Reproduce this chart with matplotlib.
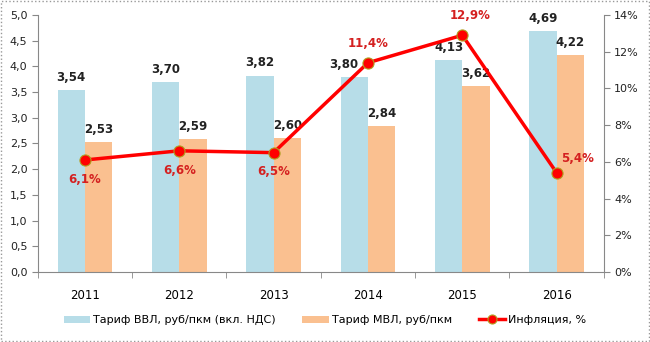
import numpy as np
import matplotlib.pyplot as plt
from matplotlib.patches import Rectangle

years = ['2011', '2012', '2013', '2014', '2015', '2016']
vvl = [3.54, 3.70, 3.82, 3.80, 4.13, 4.69]
mvl = [2.53, 2.59, 2.60, 2.84, 3.62, 4.22]
infl = [6.1, 6.6, 6.5, 11.4, 12.9, 5.4]

blue = '#b7dde8'
orange = '#fac090'
red = '#ff0000'
dark_red = '#d42020'

plt.rcParams['font.family'] = ['DejaVu Sans']
plt.rcParams['font.size'] = 8

fig = plt.figure(figsize=(6.5, 3.42), dpi=100)
ax = fig.add_axes([0.058, 0.205, 0.871, 0.751])
ax2 = ax.twinx()

x = np.arange(len(years))
w = 0.29
b1 = ax.bar(x - w / 2, vvl, w, color=blue, label='Тариф ВВЛ, руб/пкм (вкл. НДС)')
b2 = ax.bar(x + w / 2, mvl, w, color=orange, label='Тариф МВЛ, руб/пкм')

# small shifts so labels do not sit under the line markers
vvl_dx = [0, 0, 0, -0.11, 0, 0]
for xi, v, dx in zip(x, vvl, vvl_dx):
    ax.text(xi - w / 2 + dx, v + 0.12, f'{v:.2f}'.replace('.', ','), ha='center', va='bottom',
            fontweight='bold', fontsize=8.5, color='#222222')
for xi, v in zip(x, mvl):
    ax.text(xi + w / 2, v + 0.12, f'{v:.2f}'.replace('.', ','), ha='center', va='bottom',
            fontweight='bold', fontsize=8.5, color='#222222')

ln, = ax2.plot(x, infl, color=red, lw=2.5, marker='o', ms=8, mfc=red, mec='#b0a020',
               mew=0.8, label='Инфляция, %')

offsets = [(0, -1.05), (0, -1.05), (0, -1.05), (0, 1.05), (0.08, 1.1), (0.22, 0.8)]
for xi, v, (dx, dy) in zip(x, infl, offsets):
    ax2.text(xi + dx, v + dy, f'{v:.1f}%'.replace('.', ','), ha='center', va='center',
             fontweight='bold', fontsize=8.5, color=dark_red)

ax.set_xlim(-0.5, len(years) - 0.5)
ax.set_ylim(0, 5)
ax.set_yticks(np.arange(0, 5.01, 0.5))
ax.set_yticklabels([f'{v:.1f}'.replace('.', ',') for v in np.arange(0, 5.01, 0.5)])
ax2.set_ylim(0, 14)
ax2.set_yticks(np.arange(0, 15, 2))
ax2.set_yticklabels([f'{int(v)}%' for v in np.arange(0, 15, 2)])

ax.set_xticks(x)
ax.set_xticklabels(years, fontsize=8.5)
ax.set_xticks(np.arange(-0.5, len(years)), minor=True)
ax.tick_params(axis='x', which='major', length=0, pad=12)
ax.tick_params(axis='x', which='minor', length=4, color='#888888')
ax.tick_params(axis='y', length=4, color='#888888', colors='#222222')
ax2.tick_params(axis='y', length=4, color='#888888', colors='#222222')

for a in (ax, ax2):
    a.spines['top'].set_visible(False)
    for s in ('left', 'right', 'bottom'):
        a.spines[s].set_color('#888888')
ax.spines['right'].set_visible(False)
ax2.spines['left'].set_visible(False)
ax2.spines['bottom'].set_visible(False)

leg = fig.legend(handles=[b1, b2, ln], loc='lower center', bbox_to_anchor=(0.5, 0.02), ncol=3,
                 frameon=False, handlelength=2.4, handleheight=0.6, handletextpad=0.25,
                 columnspacing=2.4, fontsize=8)
leg.legend_handles[2].set_markersize(6.5)

fig.patches.append(Rectangle((0.002, 0.003), 0.996, 0.994, transform=fig.transFigure,
                             fill=False, ec='#999999', lw=1, ls=':'))

fig.savefig('out.png', dpi=100)
